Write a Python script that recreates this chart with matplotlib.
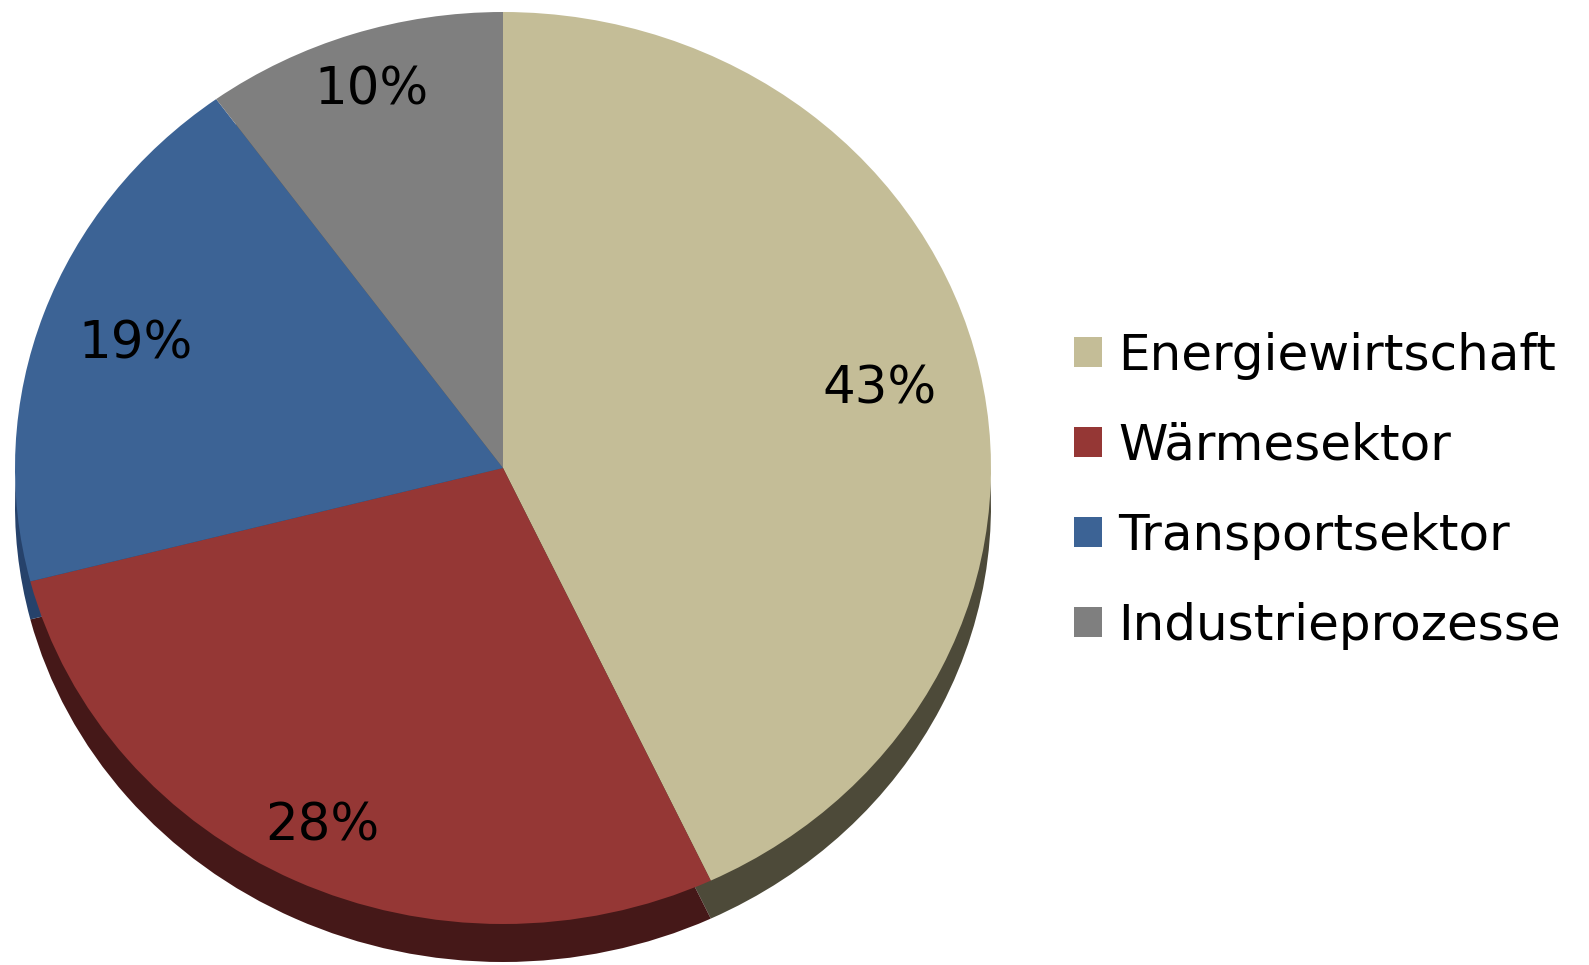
import matplotlib
matplotlib.use("Agg")
import matplotlib.pyplot as plt
import numpy as np

# Anteile der Sektoren
SEKTOREN = ["Energiewirtschaft", "Wärmesektor", "Transportsektor",
            "Industrieprozesse"]
ANTEILE = [43, 28, 19, 10]

FARBEN = ["#c4bd97", "#953735", "#3c6395", "#7f7f7f"]
SEITE = ["#4d4a39", "#451818", "#26426b", "#4a4a4a"]
LABEL_ABST = [0.79, 0.87, 0.80, 0.87]

W, H = 1589, 965
CX, CY = 503, 468          # Mittelpunkt in Pixel
RX, RY = 488, 456          # Halbachsen der gekippten Scheibe
TIEFE = 38                 # Höhe der Seitenfläche in Pixel

fig = plt.figure(figsize=(W / 100, H / 100), dpi=100, facecolor="white")
ax = fig.add_axes([0, 0, 1, 1])

# Seitenfläche: dunkle, nach unten versetzte Kopie
seite, _ = ax.pie(ANTEILE, colors=SEITE, startangle=90, counterclock=False,
                  center=(0, -TIEFE / RY), radius=1,
                  wedgeprops=dict(linewidth=0))
for w in seite:
    w.set_zorder(1)

oben, _ = ax.pie(ANTEILE, colors=FARBEN, startangle=90, counterclock=False,
                 radius=1, wedgeprops=dict(linewidth=0))
for w in oben:
    w.set_zorder(2)

# Prozentbeschriftungen
for w, wert, d in zip(oben, ANTEILE, LABEL_ABST):
    a = np.deg2rad((w.theta1 + w.theta2) / 2)
    ax.text(d * np.cos(a), d * np.sin(a), f"{wert}%", ha="center",
            va="center", fontsize=37, color="black", zorder=3)

ax.set_aspect("auto")
ax.set_xlim(-CX / RX, (W - CX) / RX)
ax.set_ylim(-(H - CY) / RY, CY / RY)
ax.axis("off")

fig.legend(oben, SEKTOREN, loc="upper left",
           bbox_to_anchor=(1074 / W, 1 - 332 / H),
           frameon=False, fontsize=36, handlelength=0.55, handleheight=0.55,
           handletextpad=0.33, labelspacing=0.84, borderaxespad=0,
           borderpad=0)

fig.savefig("out.png", dpi=100, facecolor="white")
